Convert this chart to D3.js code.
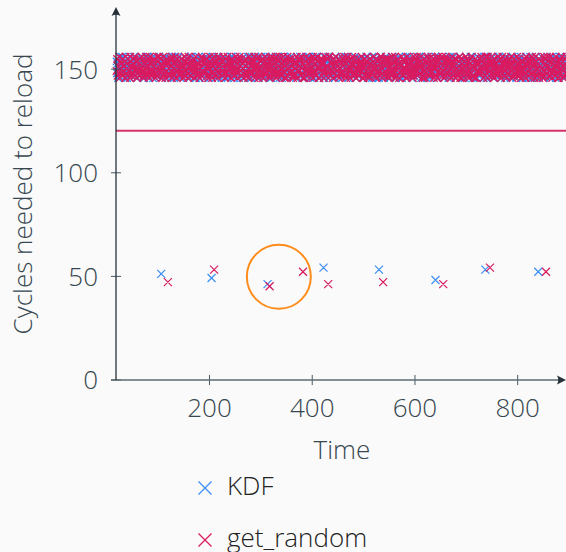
<!DOCTYPE html>
<html>
<head>
<meta charset="utf-8">
<script src="https://cdn.jsdelivr.net/npm/d3@7"></script>
<style>
  body { margin: 0; background: #fafafa; }
  svg { display: block; font-family: "Open Sans", "Noto Sans", sans-serif; }
</style>
</head>
<body>
<div id="chart"></div>
<script>
// tick labels
var xTicks = [200, 400, 600, 800];
var yTicks = [0, 50, 100, 150];

// the two series
var seriesNames = ["KDF", "get_random"];
var kdfTimes = [107, 205, 314, 423, 531, 641, 738, 841];
var kdfCycles = [51, 49, 46, 54, 53, 48, 53, 52];
var randomTimes = [120, 210, 318, 383, 432, 539, 656, 747, 856];
var randomCycles = [47, 53, 45, 52, 46, 47, 46, 54, 52];

// horizontal threshold line
var thresholdCycles = 120;

// highlighted point (circled)
var highlightTime = 336;
var highlightCycles = 49.6;

// the dense band near 150: one digit per time step, starting at bandStart,
// digit is an index into bandLevels
var bandStart = 20;
var bandLevels = [145.5, 146.6, 147.8, 148.9, 150.1, 151.2, 152.4, 153.5, 154.7, 155.8];
var kdfBandDigits = [
  "72604 15938 89247 36015 50382 94761 23859 67140 08523 41976 86310 52749 19064 73852 30497 65218",
  "46291 83075 14538 97620 61847 20359 75093 38416 92765 04183 57924 16852 83049 29571 64308 05736",
  "90853 27416 63079 41582 08235 76941 32607 59184 26370 88519 13046 70825 45693 91237 02784 37460",
  "13578 60942 85214 29760 47093 15386 94821 03657 71948 36205 69417 24093 80562 57314 46129 98053",
  "58032 94167 30681 75249 92516 64820 17435 81972 45203 60874 28391 93506 14728 05693 79240 21587",
  "24769 01385 76903 14527 38640 09271 55148 46390 83617 29745 90562 47813 61249 32086 15873 84320",
  "81346 59720 42157 83096 65918 31504 20763 97825 10459 74382 53028 16947 35870 68421 94605 50138",
  "37190 28654 95832 06471 12784 87639 69402 24516 58930 43168 07295 82634 99153 40782 21569 63047",
  "65423 70819 18376 52948 80351 43295 36870 13604 95287 21739 46810 35462 72096 17348 88234 09761",
  "09831 46572 61290 38715 27649 98130 84516 70293 32465 56081 19673 64208 43517 85920 30658 72194",
  "52067 93148 07453 69102 74586 25917 41038 86752 63810 17294 82546 08371 26495 59183 74026 36815"
];
var randomBandDigits = [
  "38152 90476 21835 57092 64183 30971 45628 19354 07261 88439 52017 36945 71280 94316 25783 60419",
  "17394 82650 49127 03586 76241 58903 21674 93058 44712 68235 05197 37860 92413 16572 80349 53621",
  "64027 19853 32768 85104 47916 20385 96471 13029 58647 71392 40856 29134 67508 83271 15943 02687",
  "95381 46207 78523 10649 23875 67190 34562 89014 51738 06429 72865 41307 18956 63482 90217 27594",
  "21469 73085 06194 48723 85310 12647 69038 37581 94206 50379 13842 86721 45093 32618 79450 04836",
  "87603 24915 53829 91476 30258 46931 15804 72163 28597 61042 97354 03689 56218 20473 48165 76930",
  "40518 67392 12086 36254 79641 08327 53619 94072 61385 27810 84536 19247 32901 75684 06253 93148",
  "73240 09564 86731 25019 54387 91652 27495 60138 03726 49851 16293 78405 64170 89532 42869 15307",
  "19857 52638 40295 67183 08412 35790 82046 14573 96821 70364 25917 51048 07632 36285 93740 68419",
  "62094 31756 97418 04632 61925 73408 49267 38150 22574 85693 60128 24376 91865 13047 57312 80956",
  "35716 84029 28560 79341 16803 57214 03981 86295 47139 12706 38451 95620 20784 64953 01568 49273"
];

var blue = "#3a8ef6";
var red = "#d81b60";

function decodeBand(lines) {
  var digits = lines.join("").replace(/ /g, "");
  return digits.split("").map(function(c, i) {
    return { time: bandStart + i, cycles: bandLevels[+c] };
  });
}

function crossPath(points, x, y, h) {
  var p = "";
  points.forEach(function(d) {
    var cx = x(d.time), cy = y(d.cycles);
    p += "M" + (cx - h) + "," + (cy - h) + "L" + (cx + h) + "," + (cy + h) +
         "M" + (cx - h) + "," + (cy + h) + "L" + (cx + h) + "," + (cy - h);
  });
  return p;
}

function makeChart() {
  var svgWidth = 566, svgHeight = 552;

  var svg = d3.select("#chart").append("svg")
    .attr("width", svgWidth)
    .attr("height", svgHeight);

  var xScale = d3.scaleLinear().domain([19, 895]).range([116, 566]);
  var yScale = d3.scaleLinear().domain([0, 180]).range([379.5, 6.5]);

  var kdfBand = decodeBand(kdfBandDigits);
  var randomBand = decodeBand(randomBandDigits);
  var kdfPoints = kdfTimes.map((t, i) => ({ time: t, cycles: kdfCycles[i] }));
  var randomPoints = randomTimes.map((t, i) => ({ time: t, cycles: randomCycles[i] }));

  // band
  svg.append("path")
    .attr("d", crossPath(kdfBand, xScale, yScale, 3.7))
    .attr("stroke", blue).attr("stroke-width", 1.3).attr("fill", "none");
  svg.append("path")
    .attr("d", crossPath(randomBand, xScale, yScale, 3.7))
    .attr("stroke", red).attr("stroke-width", 1.4).attr("fill", "none");

  // threshold line
  svg.append("line")
    .attr("x1", 116).attr("x2", svgWidth)
    .attr("y1", yScale(thresholdCycles)).attr("y2", yScale(thresholdCycles))
    .attr("stroke", "#d6336c").attr("stroke-width", 2);

  // low points
  svg.append("path")
    .attr("d", crossPath(kdfPoints, xScale, yScale, 4))
    .attr("stroke", blue).attr("stroke-width", 1.2).attr("fill", "none");
  svg.append("path")
    .attr("d", crossPath(randomPoints, xScale, yScale, 4))
    .attr("stroke", red).attr("stroke-width", 1.2).attr("fill", "none");

  // highlight circle
  svg.append("circle")
    .attr("cx", xScale(highlightTime))
    .attr("cy", yScale(highlightCycles))
    .attr("r", 32)
    .attr("fill", "none")
    .attr("stroke", "#ff8c1a")
    .attr("stroke-width", 2);

  // axes
  var xAxisG = svg.append("g")
    .attr("transform", "translate(0,380)")
    .call(d3.axisBottom(xScale).tickValues(xTicks).tickSize(5));
  xAxisG.select(".domain").remove();
  xAxisG.selectAll(".tick line").attr("y1", -5).attr("y2", 5).attr("stroke", "#455a64");
  xAxisG.selectAll(".tick text")
    .attr("y", 37).attr("dy", 0)
    .attr("font-size", "26px").attr("font-weight", 300)
    .attr("font-family", "'Open Sans', sans-serif")
    .attr("fill", "#37474f");

  var yAxisG = svg.append("g")
    .attr("transform", "translate(116,0)")
    .call(d3.axisLeft(yScale).tickValues(yTicks).tickSize(5));
  yAxisG.select(".domain").remove();
  yAxisG.selectAll(".tick line").attr("x1", -5).attr("x2", 5).attr("stroke", "#455a64");
  yAxisG.selectAll(".tick text")
    .attr("x", -18).attr("dy", "0.36em")
    .attr("font-size", "26px").attr("font-weight", 300)
    .attr("font-family", "'Open Sans', sans-serif")
    .attr("fill", "#37474f");

  // axis lines with arrow heads
  svg.append("line")
    .attr("x1", 111).attr("x2", 560).attr("y1", 380).attr("y2", 380)
    .attr("stroke", "#5b6b6e").attr("stroke-width", 1.5);
  svg.append("path")
    .attr("d", "M566,380 L557,375.5 Q559.5,380 557,384.5 Z")
    .attr("fill", "#263238");
  svg.append("line")
    .attr("x1", 116).attr("x2", 116).attr("y1", 380).attr("y2", 12)
    .attr("stroke", "#263238").attr("stroke-width", 1.3);
  svg.append("path")
    .attr("d", "M116,7 L111.5,16 Q116,13.5 120.5,16 Z")
    .attr("fill", "#263238");

  // axis titles
  svg.append("text")
    .attr("transform", "translate(22,194) rotate(-90)")
    .attr("text-anchor", "middle")
    .attr("dominant-baseline", "central")
    .attr("font-size", "26px").attr("font-weight", 300)
    .attr("fill", "#37474f")
    .text("Cycles needed to reload");

  svg.append("text")
    .attr("x", 342).attr("y", 459)
    .attr("text-anchor", "middle")
    .attr("font-size", "26px").attr("font-weight", 300)
    .attr("fill", "#37474f")
    .text("Time");

  // legend
  var legendY = [488, 540];
  var legendColors = [blue, red];
  seriesNames.forEach(function(name, i) {
    var cx = 205, cy = legendY[i], h = 6.5;
    svg.append("path")
      .attr("d", "M" + (cx - h) + "," + (cy - h) + "L" + (cx + h) + "," + (cy + h) +
                 "M" + (cx - h) + "," + (cy + h) + "L" + (cx + h) + "," + (cy - h))
      .attr("stroke", legendColors[i]).attr("stroke-width", 1.3).attr("fill", "none");
    svg.append("text")
      .attr("x", 227).attr("y", cy + 7)
      .attr("font-size", "26px").attr("font-weight", 300)
      .attr("fill", "#222")
      .text(name);
  });
}

makeChart();
</script>
</body>
</html>
